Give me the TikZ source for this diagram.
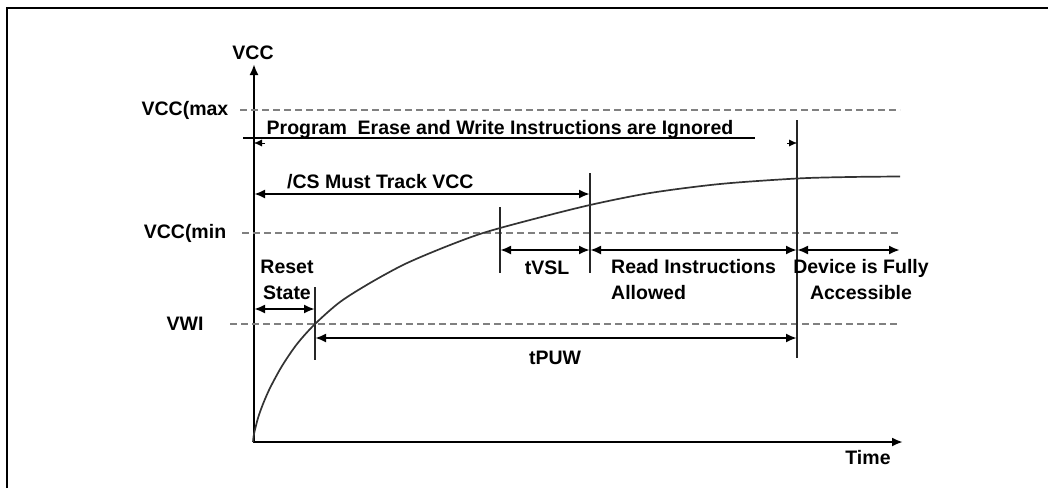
\documentclass[tikz,border=0pt]{standalone}
\usepackage{fontspec}
\setmainfont{Liberation Sans}
\usetikzlibrary{arrows.meta,positioning,calc}

\begin{document}
\begin{tikzpicture}[
    x=1pt,y=-1pt,
    axis/.style  = {line width=2.2pt, line join=miter,
                    {Latex[length=11pt,width=9pt]}-{Latex[length=11pt,width=9pt]}},
    lvl/.style   = {black!50, line width=2pt, dash pattern=on 7pt off 4pt},
    span/.style  = {line width=2.2pt,
                    {Latex[length=11pt,width=9pt]}-{Latex[length=11pt,width=9pt]}},
    tick/.style  = {line width=1.7pt, black!85},
    curve/.style = {line width=1.7pt, black!80},
    lbl/.style   = {font=\fontsize{19.5}{26}\selectfont\bfseries, inner sep=0pt,
                    align=center},
  ]

  \useasboundingbox (0,0) rectangle (1048,488);
  \draw[line width=2.5pt] (7,488) -- (7,8) -- (1048,8);

  % axes
  \coordinate (o)    at (254,442);
  \coordinate (ytop) at (254,64);
  \coordinate (xend) at (903,442);
  \draw[axis] (ytop) -- (o) -- (xend);
  \node[lbl] (vcc)  at (253,53)  {VCC};
  \node[lbl] (time) at (868,458) {Time};

  % levels
  \coordinate (vmax) at (0,110);
  \coordinate (vmin) at (0,233);
  \coordinate (vwi)  at (0,324);
  \coordinate (lend) at (900,0);
  \draw[lvl] (240,110) -- (lend |- vmax);
  \draw[lvl] (242,233) -- (lend |- vmin);
  \draw[lvl] (230,324) -- (lend |- vwi);
  \node[lbl] (lmax) at (185,110) {VCC(max};
  \node[lbl] (lmin) at (185,233) {VCC(min};
  \node[lbl] (lwi)  at (185,324) {VWI};

  % time marks
  \coordinate (tr) at (315,0);
  \coordinate (ts) at (500,0);
  \coordinate (tc) at (590,0);
  \coordinate (tp) at (797,0);
  \draw[tick] (315,287) -- (315,360);
  \draw[tick] (500,207) -- (500,273);
  \draw[tick] (590,173) -- (590,273);
  \draw[tick] (797,120) -- (797,358);

  \draw[curve] plot[smooth] coordinates {(253,442) (254,434) (258,418) (263,404)
      (270,388) (282,366) (297,344) (315,324) (340,302) (370,283) (405,264)
      (445,247) (483,233) (530,220) (590,205) (650,193) (720,184) (797,178.5)
      (850,177) (900,176.5)};

  % ignored window
  \draw[line width=2.5pt] (243,138) -- (755,138);
  \node[lbl,anchor=base] (ign) at (500,134)
       {Program\ \ Erase and Write Instructions are Ignored};
  \draw[-{Latex[length=8pt,width=7pt]}] (265,143) -- (o |- 0,143);
  \draw[-{Latex[length=8pt,width=7pt]}] (787,143) -- (tp |- 0,143);

  % spans
  \draw[span] (o |- 0,194) -- (tc |- 0,194);
  \node[lbl,anchor=west] (cs) at (287,182) {/CS Must Track VCC};

  \draw[span] (o |- 0,309) -- (tr |- 0,309);
  \node[lbl] (rst) at (287,280) {Reset\\State};

  \draw[span] (ts |- 0,250) -- (tc |- 0,250);
  \draw[span] (tc |- 0,250) -- (tp |- 0,250);
  \draw[span] (tp |- 0,250) -- (lend |- 0,250);
  \node[lbl] (tvsl) at (547,268) {tVSL};
  \node[lbl,anchor=west,align=left] (rd) at (611,280) {Read Instructions\\Allowed};
  \node[lbl] (dev) at (861,280) {Device is Fully\\Accessible};

  \draw[span] (tr |- 0,338) -- (tp |- 0,338);
  \node[lbl] (tpuw) at (555,358) {tPUW};

\end{tikzpicture}
\end{document}
